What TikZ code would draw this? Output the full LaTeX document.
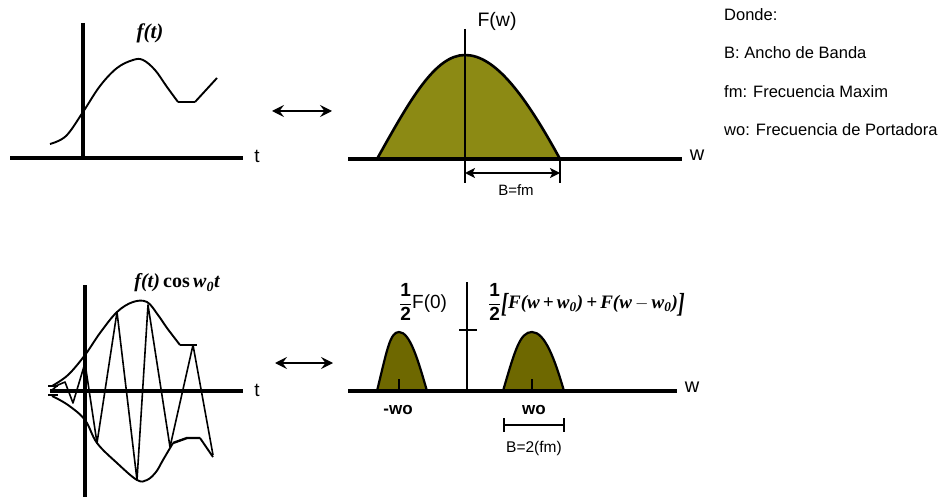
\documentclass[tikz,border=0pt]{standalone}
\usepackage{fontspec}
\usepackage{amsmath}
\setmainfont{Liberation Sans}
\newfontfamily\timesf{Liberation Serif}
\usetikzlibrary{arrows.meta}
\definecolor{olivetop}{RGB}{140,138,20}
\definecolor{olivebot}{RGB}{110,104,0}
\tikzset{
  axis/.style={line width=3.2pt},
  curve/.style={line width=1.9pt, line join=round},
  lbl/.style={inner sep=0pt, font=\fontsize{19}{21}\selectfont},
  legend/.style={inner sep=0pt, anchor=west, font=\fontsize{16.5}{18}\selectfont},
  bigarrow/.style={line width=1.2pt, {Stealth[length=12pt,width=12pt,inset=4.5pt]}-{Stealth[length=12pt,width=12pt,inset=4.5pt]}},
  dimarrow/.style={line width=1.6pt, {Stealth[length=10pt,width=10pt,inset=2.5pt]}-{Stealth[length=10pt,width=10pt,inset=2.5pt]}},
}
\begin{document}
\begin{tikzpicture}[x=1pt,y=-1pt]
\useasboundingbox (0,0) rectangle (948,497);

% ---------- top left: f(t) ----------
\draw[axis] (10,158) -- (243,158);
\draw[axis] (83,23) -- (83,158);
\node[lbl] (t1) at (257,156) {t};
\node[lbl, font=\timesf\bfseries\itshape\fontsize{21}{23}\selectfont] (ft) at (150,33) {f(t)};
\draw[curve] plot[smooth, tension=0.6] coordinates {(50,144) (66,136) (83,112) (100,86) (117,68) (133,60) (143,60) (155,70) (167,87) (178,102)};
\draw[curve, line width=2.4pt] (178,102) -- (195,102);
\draw[curve] (195,102) -- (217,78);

% ---------- top double arrow ----------
\coordinate (a1l) at (272,111);
\coordinate (a1r) at (332,111);
\draw[bigarrow] (a1l) -- (a1r);

% ---------- top right: F(w) ----------
\fill[olivetop] (377,159) .. controls (410,100) and (435,55) .. (465,55) .. controls (495,55) and (525,95) .. (560,159) -- cycle;
\draw[curve, line width=2.6pt] (377,159) .. controls (410,100) and (435,55) .. (465,55) .. controls (495,55) and (525,95) .. (560,159);
\draw[axis] (348,159) -- (682,159);
\draw[line width=2.4pt] (465,29) -- (465,159);
\node[lbl, font=\fontsize{19.5}{21}\selectfont] (Fw) at (497,21) {F(w)};
\node[lbl, font=\fontsize{20}{22}\selectfont] (w1) at (697,155) {w};
\draw[line width=1.4pt] (465,159) -- (465,183);
\draw[line width=1.4pt] (560,159) -- (560,183);
\coordinate (d1l) at (465,173);
\coordinate (d1r) at (560,173);
\draw[dimarrow] (d1l) -- (d1r);
\node[lbl, font=\fontsize{15}{17}\selectfont] (Bfm) at (516,190) {B=fm};

% ---------- legend ----------
\node[legend] (l1) at (724,15) {Donde:};
\node[legend] (l2) at (724,53) {B: Ancho de Banda};
\node[legend] (l3) at (724,92) {fm: Frecuencia Maxim};
\node[legend] (l4) at (724,130) {wo: Frecuencia de Portadora};

% ---------- bottom left: modulated ----------
\draw[axis] (50,391) -- (243,391);
\draw[axis] (85,285) -- (85,497);
\node[lbl] (t2) at (257,390) {t};
\node[lbl, font=\timesf\bfseries\fontsize{20}{22}\selectfont] (fcos) at (177,283) {\itshape f(t)\upshape\,cos\,\itshape w\textsubscript{0}t};
% upper envelope
\draw[curve] plot[smooth, tension=0.6] coordinates {(52,386) (68,375) (85,355) (100,333) (117,312) (133,302) (147,302) (158,315) (167,328) (180,345)};
\draw[curve, line width=2.4pt] (180,345) -- (197,345);
% lower envelope
\draw[curve] plot[smooth, tension=0.6] coordinates {(52,396) (68,405) (85,420) (97,443) (117,463) (137,480) (147,480) (156,472) (163,460) (173,443)};
\draw[curve, line width=2.4pt] (173,443) -- (187,438) -- (200,438);
\draw[curve] (200,438) -- (213,457);
% carrier
\draw[curve, line width=1.6pt] (52,390) -- (58,385) -- (65,382) -- (73,403) -- (85,363) -- (97,443) -- (117,312) -- (137,480) -- (148,305) -- (170,447) -- (193,345) -- (213,455);
\draw[line width=1.3pt] (48,386) -- (58,386);
\draw[line width=1.3pt] (48,395) -- (58,395);

% ---------- bottom double arrow ----------
\coordinate (a2l) at (275,363);
\coordinate (a2r) at (333,363);
\draw[bigarrow] (a2l) -- (a2r);

% ---------- bottom right: spectrum ----------
\fill[olivebot] (377,391) .. controls (387,350) and (390,332) .. (399,332) .. controls (410,332) and (418,360) .. (427,391) -- cycle;
\draw[curve, line width=2.2pt] (377,391) .. controls (387,350) and (390,332) .. (399,332) .. controls (410,332) and (418,360) .. (427,391);
\fill[olivebot] (503,391) .. controls (515,350) and (520,332) .. (532,332) .. controls (545,332) and (555,360) .. (564,391) -- cycle;
\draw[curve, line width=2.2pt] (503,391) .. controls (515,350) and (520,332) .. (532,332) .. controls (545,332) and (555,360) .. (564,391);
\draw[axis] (348,391) -- (677,391);
\draw[line width=2.4pt] (467,282) -- (467,391);
\draw[line width=2.4pt] (459,330) -- (477,330);
\draw[line width=2.4pt] (399,379) -- (399,391);
\draw[line width=2.4pt] (532,379) -- (532,391);
\node[lbl, font=\fontsize{20}{22}\selectfont] (w2) at (692,387) {w};
\node[lbl, font=\bfseries\fontsize{17}{19}\selectfont] (mwo) at (398,410) {-wo};
\node[lbl, font=\bfseries\fontsize{17}{19}\selectfont] (wo) at (534,410) {wo};
\draw[line width=1.4pt] (504,425) -- (564,425);
\draw[line width=1.4pt] (504,418) -- (504,432);
\draw[line width=1.4pt] (564,418) -- (564,432);
\node[lbl, font=\fontsize{15.5}{17}\selectfont] (B2) at (534,448) {B=2(fm)};
\node[lbl, anchor=west, font=\fontsize{19}{21}\selectfont] (F0) at (399,302) {$\dfrac{\text{\bfseries 1}}{\text{\bfseries 2}}$F(0)};
\node[lbl, anchor=west, font=\fontsize{19}{21}\selectfont] (sum) at (488,302) {$\dfrac{\text{\bfseries 1}}{\text{\bfseries 2}}$\timesf\bfseries\itshape\raisebox{-0.2em}{\scalebox{1.1}[1.45]{[}}F(w\,+\,w\textsubscript{0})\,+\,F(w\,$-$\,w\textsubscript{0})\raisebox{-0.2em}{\scalebox{1.1}[1.45]{]}}};

\end{tikzpicture}
\end{document}
